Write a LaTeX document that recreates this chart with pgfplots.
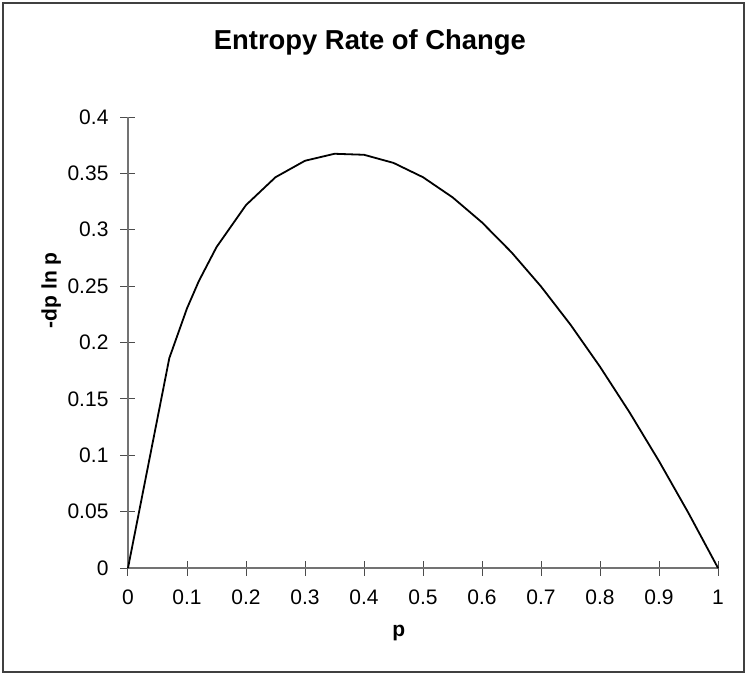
\documentclass[border=0pt]{standalone}
\usepackage{fontspec}
\setmainfont{Liberation Sans}
\usepackage{pgfplots}
\pgfplotsset{compat=1.18}

\begin{document}
\begin{tikzpicture}
% page and outer frame (1 px of the reference = 0.5pt)
\useasboundingbox (-64pt,-53.5pt) rectangle (309.5pt,284pt);
\draw[black!75, line width=0.8pt] (-62.5pt,-52pt) rectangle (308pt,282.5pt);
\begin{axis}[
  at={(0,0)}, anchor=origin,
  scale only axis,
  width=295pt, height=225.5pt,
  xmin=0, xmax=1, ymin=0, ymax=0.4,
  axis x line=bottom, axis y line=left,
  axis line style={-, black!55, line width=0.7pt},
  xtick={0,0.1,0.2,0.3,0.4,0.5,0.6,0.7,0.8,0.9,1},
  xticklabels={0,0.1,0.2,0.3,0.4,0.5,0.6,0.7,0.8,0.9,1},
  ytick={0,0.05,0.1,0.15,0.2,0.25,0.3,0.35,0.4},
  yticklabels={0,0.05,0.1,0.15,0.2,0.25,0.3,0.35,0.4},
  tick align=center, major tick length=7.5pt,
  tick style={black!70, line width=0.5pt},
  xticklabel style={font=\fontsize{10.5}{12}\selectfont, yshift=-3.5pt},
  yticklabel style={font=\fontsize{10.5}{12}\selectfont, xshift=-2.5pt},
  title={Entropy Rate of Change},
  title style={font=\fontsize{13.7}{16}\selectfont\bfseries, at={(axis description cs:0.41,1.138)}, anchor=center},
  xlabel={p},
  xlabel style={font=\fontsize{10.5}{12}\selectfont\bfseries, at={(axis description cs:0.459,-0.144)}, anchor=center},
  ylabel={-dp ln p},
  ylabel style={font=\fontsize{10.5}{12}\selectfont\bfseries, at={(axis description cs:-0.13,0.616)}, anchor=center},
  clip=false,
]
\addplot[black, line width=0.9pt, mark=none] coordinates {
  (0,0) (0.07,0.1861) (0.1,0.2303) (0.12,0.2544) (0.15,0.2846)
  (0.2,0.3219) (0.25,0.3466) (0.3,0.3612) (0.35,0.3674) (0.4,0.3665)
  (0.45,0.3593) (0.5,0.3466) (0.55,0.3288) (0.6,0.3065) (0.65,0.2800)
  (0.7,0.2497) (0.75,0.2158) (0.8,0.1785) (0.85,0.1381) (0.9,0.0948)
  (0.95,0.0487) (1,0)
};
\end{axis}
\end{tikzpicture}
\end{document}
